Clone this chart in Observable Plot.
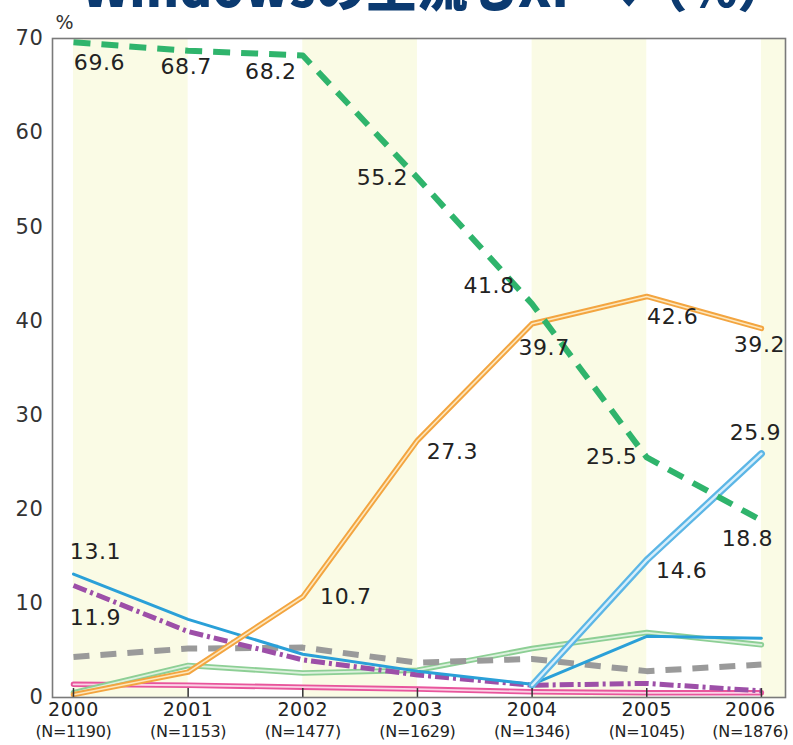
<!DOCTYPE html>
<html>
<head>
<meta charset="utf-8">
<script src="https://cdn.jsdelivr.net/npm/d3@7"></script>
<script src="https://cdn.jsdelivr.net/npm/@observablehq/plot@0.6"></script>
<style>
  html, body { margin: 0; padding: 0; background: #fff; overflow: hidden; }
  #wrap { position: relative; width: 793px; height: 745px; overflow: hidden; }
  #title { position: absolute; left: 0; top: 0; width: 793px; height: 40px; overflow: hidden; }
  #chart { position: absolute; left: 0; top: 0; }
  #chart svg text { letter-spacing: 0.6px; }
  #chart svg g.nlab text { letter-spacing: -0.3px; }
</style>
</head>
<body>
<div id="wrap">
  <div id="chart"></div>
  <svg id="title" viewBox="0 0 793 40">
    <text x="82" y="7" font-family="Noto Sans CJK JP, sans-serif" font-weight="900" font-size="52"
      fill="#0b3a70" textLength="706" lengthAdjust="spacingAndGlyphs">Windowsの主流もXPへ（%）</text>
  </svg>
</div>
<script>
// ---- data ----
const years = [2000, 2001, 2002, 2003, 2004, 2005, 2006];
const sampleSizes = [1190, 1153, 1477, 1629, 1346, 1045, 1876];
const yTicks = [0, 10, 20, 30, 40, 50, 60, 70];
const win98 = [69.6, 68.7, 68.2, 55.2, 41.8, 25.5, 18.8];
const winXP = [0.3, 2.7, 10.7, 27.3, 39.7, 42.6, 39.2];
const winVista = [null, null, null, null, 1.3, 14.6, 25.9];
const winMe = [13.1, 8.3, 4.6, 2.8, 1.4, 6.5, 6.3];
const win2000 = [11.9, 7.0, 4.0, 2.4, 1.3, 1.5, 0.7];
const win95 = [4.3, 5.2, 5.3, 3.7, 4.1, 2.8, 3.5];
const mac = [0.5, 3.4, 2.6, 2.9, 5.2, 6.9, 5.6];
const other = [1.4, 1.3, 1.1, 0.9, 0.6, 0.5, 0.5];
// shaded year spans
const bandStarts = [2000, 2002, 2004, 2006];
// value labels: series, year, placement
const valueLabels = [
  ["win98", 2000, "belowRight"], ["win98", 2001, "below"], ["win98", 2002, "leftBelow"],
  ["win98", 2003, "left"], ["win98", 2004, "aboveLeft"], ["win98", 2005, "left"],
  ["win98", 2006, "belowLeft"],
  ["winXP", 2002, "right"], ["winXP", 2003, "rightBelow"], ["winXP", 2004, "belowNear"],
  ["winXP", 2005, "belowRight"], ["winXP", 2006, "below"],
  ["winVista", 2005, "rightBelow"], ["winVista", 2006, "above"],
  ["winMe", 2000, "aboveRight"],
  ["win2000", 2000, "farBelowRight"]
];

// ---- build ----
const seriesValues = {win98, winXP, winVista, winMe, win2000, win95, mac, other};
const rows = key => years.map((year, i) => ({series: key, year, value: seriesValues[key][i]}))
  .filter(d => d.value != null);

const xMin = 1999.817, xMax = 2006.21;
const offsets = {
  below: [-2, 16], belowLeft: [-14, 18], belowRight: [26, 21], belowNear: [12, 24],
  left: [-35, 0], leftBelow: [-32, 17], aboveLeft: [-43, -18], right: [43, 0],
  rightBelow: [35, 11], above: [-6, -21], aboveRight: [22, -22], farBelowRight: [22, 32]
};
const labelRows = valueLabels.map(([s, y, p]) => ({
  year: y, value: seriesValues[s][years.indexOf(y)], place: p
}));

const styles = [
  {key: "other", outer: "#e8559c", outerW: 5.5, inner: "#fbd3e6", innerW: 1.8},
  {key: "mac", outer: "#8dcf95", outerW: 5.5, inner: "#dcf1de", innerW: 1.8},
  {key: "win95", outer: "#9a9a9a", outerW: 6, dash: "16,11"},
  {key: "win2000", outer: "#9d4fa8", outerW: 5, dash: "14,4,3,4"},
  {key: "winMe", outer: "#2aa0d8", outerW: 3},
  {key: "winXP", outer: "#f3a540", outerW: 5.5, inner: "#fde7bd", innerW: 1.6},
  {key: "winVista", outer: "#5cb6e6", outerW: 7, inner: "#d6eefb", innerW: 2.4},
  {key: "win98", outer: "#2fb46c", outerW: 6, dash: "17,11"}
];

const marks = [
  Plot.rect(bandStarts, {
    x1: d => d, x2: d => Math.min(d + 1, xMax), y1: 0, y2: 70, fill: "#fafbe5"
  })
];
for (const s of styles) {
  marks.push(Plot.line(rows(s.key), {
    x: "year", y: "value", stroke: s.outer, strokeWidth: s.outerW,
    strokeDasharray: s.dash, strokeLinejoin: "round", strokeLinecap: s.dash ? "butt" : "round"
  }));
  if (s.inner) {
    marks.push(Plot.line(rows(s.key), {
      x: "year", y: "value", stroke: s.inner, strokeWidth: s.innerW,
      strokeLinejoin: "round", strokeLinecap: "round"
    }));
  }
}
for (const [place, [dx, dy]] of Object.entries(offsets)) {
  marks.push(Plot.text(labelRows.filter(d => d.place === place), {
    x: "year", y: "value", text: d => d.value.toFixed(1), dx, dy,
    fontSize: 22, fill: "#222", textAnchor: "middle"
  }));
}
const lastYear = years[years.length - 1];
const xLabelRows = years.map((year, i) => ({year, n: sampleSizes[i]}));
for (const [subset, shift] of [[xLabelRows.filter(d => d.year !== lastYear), 0],
                               [xLabelRows.filter(d => d.year === lastYear), -11]]) {
  marks.push(
    Plot.text(subset, {x: "year", text: d => String(d.year), frameAnchor: "bottom",
      dy: 18, dx: shift, fontSize: 19, fill: "#222"}),
    Plot.text(subset, {x: "year", text: d => `(N=${d.n})`, frameAnchor: "bottom",
      dy: 39, dx: shift, fontSize: 16, fill: "#222", className: "nlab"})
  );
}
marks.push(
  Plot.ruleX(years, {x: d => d, y1: 0, y2: 0.95, stroke: "#333", strokeWidth: 1.5}),
  Plot.frame({stroke: "#7a7a7a", strokeWidth: 1.6}),
  Plot.axisY({ticks: yTicks, tickSize: 0, tickPadding: 9, fontSize: 21, label: null, fill: "#333"}),
  Plot.text(["%"], {frameAnchor: "top-left", text: d => d, dx: 3, dy: -10, lineAnchor: "bottom",
    textAnchor: "start", fontSize: 19, fill: "#333"})
);

const chart = Plot.plot({
  width: 793,
  height: 745,
  marginLeft: 52,
  marginRight: 8,
  marginTop: 38,
  marginBottom: 48,
  x: {domain: [xMin, xMax], axis: null},
  y: {domain: [0, 70], axis: null},
  style: {fontFamily: "DejaVu Sans, sans-serif", background: "transparent"},
  marks
});
document.getElementById("chart").appendChild(chart);
</script>
</body>
</html>
